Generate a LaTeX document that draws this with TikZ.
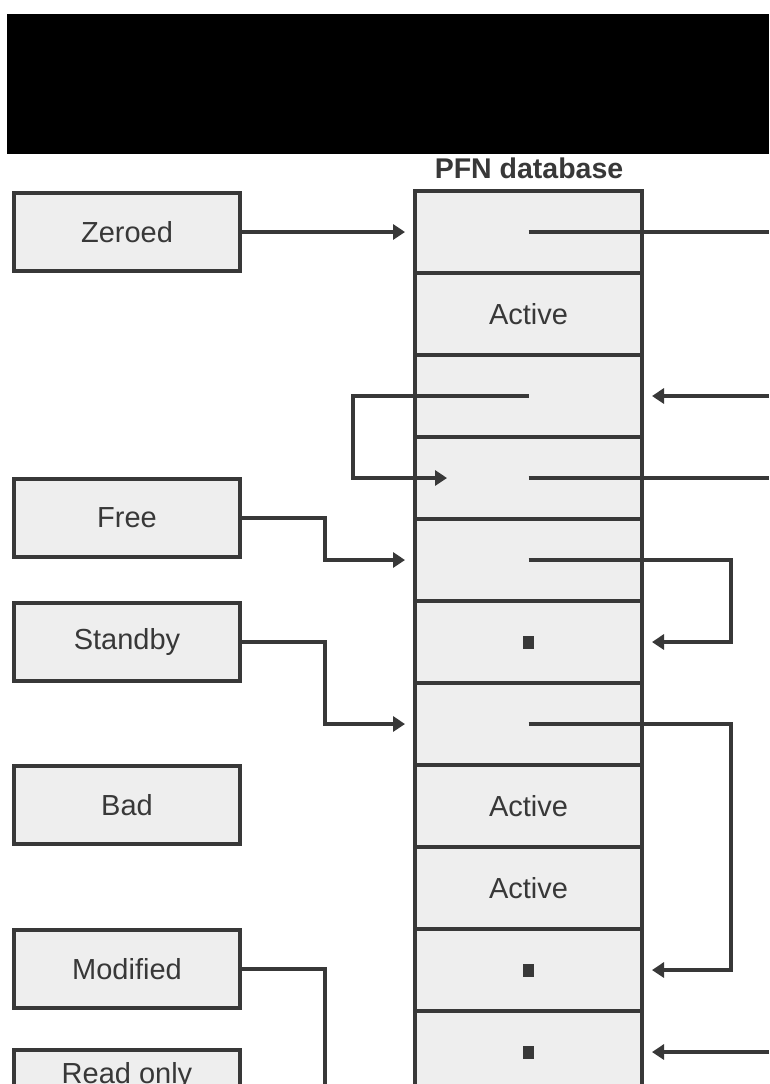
\documentclass[tikz,border=0pt]{standalone}
\usepackage{fontspec}
\setmainfont{Liberation Sans}
\usetikzlibrary{arrows.meta}
\definecolor{ink}{HTML}{383838}
\definecolor{boxfill}{HTML}{EEEEEE}
\tikzset{
  lbox/.style={draw=ink, fill=boxfill, line width=4pt, minimum width=226pt, minimum height=78pt, inner sep=0pt, text=ink, font=\fontsize{29}{34}\selectfont},
  cell/.style={draw=ink, fill=boxfill, line width=4pt, minimum width=227pt, minimum height=82pt, inner sep=0pt, text=ink, font=\fontsize{29}{34}\selectfont},
  title/.style={inner sep=0pt, text=ink, font=\fontsize{28.5}{34}\selectfont\bfseries},
  conn/.style={draw=ink, line width=4pt},
  arr/.style={conn, -{Triangle[length=12pt,width=15pt]}},
  dotmark/.style={fill=ink, minimum width=11pt, minimum height=13pt, inner sep=0pt}
}
\begin{document}
\begin{tikzpicture}[x=1pt,y=-1pt]
\useasboundingbox (0,0) rectangle (769,1084);
\clip (0,0) rectangle (769,1084);
\fill[white] (0,0) rectangle (769,1084);
% black bar
\fill[black] (7,14) rectangle (769,154);
\node[title] (pfn) at (529,168) {PFN database};
% PFN cells
\node[cell] (c1) at (528.5,232) {};
\node[cell] (c2) at (528.5,314) {Active};
\node[cell] (c3) at (528.5,396) {};
\node[cell] (c4) at (528.5,478) {};
\node[cell] (c5) at (528.5,560) {};
\node[cell] (c6) at (528.5,642) {};
\node[cell] (c7) at (528.5,724) {};
\node[cell] (c8) at (528.5,806) {Active};
\node[cell] (c9) at (528.5,888) {Active};
\node[cell] (c10) at (528.5,970) {};
\node[cell] (c11) at (528.5,1052) {};
% list heads
\node[lbox] (zeroed) at (127,232) {Zeroed};
\node[lbox] (free) at (127,518) {Free};
\node[lbox] (standby) at (127,641.5) {Standby};
\node[lbox] (bad) at (127,805) {Bad};
\node[lbox] (modified) at (127,969) {Modified};
\node[lbox, text height=21pt, text depth=33pt] (readonly) at (127,1089) {Read only};
% dots
\node[dotmark] (d6) at (c6.center) {};
\node[dotmark] (d10) at (c10.center) {};
\node[dotmark] (d11) at (c11.center) {};
% coordinates
\coordinate (r1) at (769,232);
\coordinate (r3) at (769,396);
\coordinate (r4) at (769,478);
\coordinate (r11) at (769,1052);
\coordinate (loopL) at (353,396);
\coordinate (c4in) at (447,478);
\coordinate (j5) at (325,560);
\coordinate (j7) at (325,724);
\coordinate (jm) at (325,1100);
\coordinate (k5) at (731,560);
\coordinate (k7) at (731,724);
% connectors
\draw[arr, shorten >=8pt] (zeroed.east) -- (c1.west);
\draw[conn] (c1.center) -- (r1);
\draw[arr, shorten >=8pt] (r3) -- (c3.east);
\draw[arr] (c3.center) -- (loopL) |- (c4in);
\draw[conn] (c4.center) -- (r4);
\draw[arr, shorten >=8pt] (free.east) -| (j5) -- (c5.west);
\draw[arr, shorten >=8pt] (standby.east) -| (j7) -- (c7.west);
\draw[conn] (modified.east) -| (jm);
\draw[arr, shorten >=8pt] (c5.center) -- (k5) |- (c6.east);
\draw[arr, shorten >=8pt] (c7.center) -- (k7) |- (c10.east);
\draw[arr, shorten >=8pt] (r11) -- (c11.east);
\end{tikzpicture}
\end{document}
